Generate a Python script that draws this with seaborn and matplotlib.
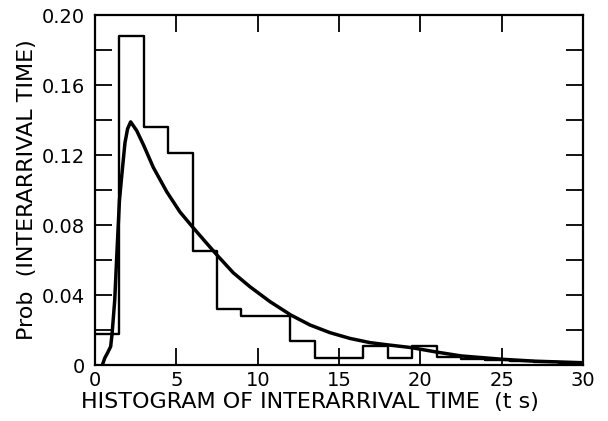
import numpy as np
import pandas as pd
import matplotlib
matplotlib.use("Agg")
import matplotlib.pyplot as plt
import seaborn as sns
from matplotlib.ticker import MultipleLocator, FixedLocator, FixedFormatter

# Histogram of measured interarrival times (bin width 1.5 s)
bin_edges = [0, 1.5, 3, 4.5, 6, 7.5, 9, 10.5, 12, 13.5, 15, 16.5, 18, 19.5,
             21, 22.5, 24, 25.5, 27, 28.5, 30]
bin_probs = [0.018, 0.188, 0.136, 0.121, 0.065, 0.032, 0.028, 0.028, 0.014,
             0.004, 0.004, 0.011, 0.004, 0.011, 0.0045, 0.0032, 0.0028,
             0.0025, 0.0018, 0.0012]

# Fitted density curve
curve_t = [0.45, 0.6, 0.75, 0.96, 1.05, 1.21, 1.35, 1.5, 1.64, 1.84, 2.0,
           2.19, 2.56, 2.97, 3.58, 4.41, 5.22, 5.94, 6.87, 7.58, 8.5, 9.53,
           10.76, 12.03, 13.21, 14.44, 15.67, 16.9, 18.0, 19.4, 21.0, 22.5,
           25.0, 27.0, 30.0]
curve_p = [0.0, 0.004, 0.0066, 0.0105, 0.018, 0.037, 0.065, 0.094, 0.108,
           0.127, 0.135, 0.139, 0.134, 0.126, 0.113, 0.099, 0.0875, 0.0795,
           0.0695, 0.062, 0.0527, 0.0447, 0.0362, 0.0286, 0.0229, 0.0185,
           0.0152, 0.0128, 0.0115, 0.0100, 0.0074, 0.0052, 0.0033, 0.0022,
           0.0013]

x_ticks = [0, 5, 10, 15, 20, 25, 30]
x_tick_labels = ["0", "5", "10", "15", "20", "25", "30"]
y_ticks = [0, 0.04, 0.08, 0.12, 0.16, 0.20]
y_tick_labels = ["0", "0.04", "0.08", "0.12", "0.16", "0.20"]

sns.set_style("ticks")
plt.rcParams["font.family"] = ["DejaVu Sans"]

fig = plt.figure(figsize=(6.08, 4.21), dpi=100)
ax = fig.add_axes([0.1563, 0.133, 0.8027, 0.831])

centers = [(a + b) / 2 for a, b in zip(bin_edges[:-1], bin_edges[1:])]
hist_df = pd.DataFrame({"t": centers, "p": bin_probs})
sns.histplot(data=hist_df, x="t", weights="p", bins=bin_edges,
             element="step", fill=False, color="black", linewidth=1.7, ax=ax)

curve_df = pd.DataFrame({"t": curve_t, "p": curve_p})
sns.lineplot(data=curve_df, x="t", y="p", color="black", linewidth=2.5,
             sort=False, ax=ax)

ax.set_xlim(0, 30)
ax.set_ylim(0, 0.20)

ax.xaxis.set_major_locator(FixedLocator(x_ticks))
ax.xaxis.set_major_formatter(FixedFormatter(x_tick_labels))
ax.yaxis.set_major_locator(FixedLocator(y_ticks))
ax.yaxis.set_major_formatter(FixedFormatter(y_tick_labels))
ax.yaxis.set_minor_locator(MultipleLocator(0.02))

for side in ["left", "right", "top", "bottom"]:
    ax.spines[side].set_visible(True)
    ax.spines[side].set_linewidth(1.6)
    ax.spines[side].set_color("black")

ax.tick_params(axis="both", which="both", direction="in", length=12,
               width=1.3, color="black", top=True, right=True,
               labelsize=14, labelcolor="black")
ax.tick_params(axis="x", which="major", pad=4)
ax.tick_params(axis="y", which="major", pad=7)

ax.set_xlabel("HISTOGRAM OF INTERARRIVAL TIME  (t s)", fontsize=16,
              labelpad=2, color="black", x=0.44)
ax.set_ylabel("Prob  (INTERARRIVAL TIME)", fontsize=16, labelpad=4,
              color="black")

fig.savefig("out.png", dpi=100)
